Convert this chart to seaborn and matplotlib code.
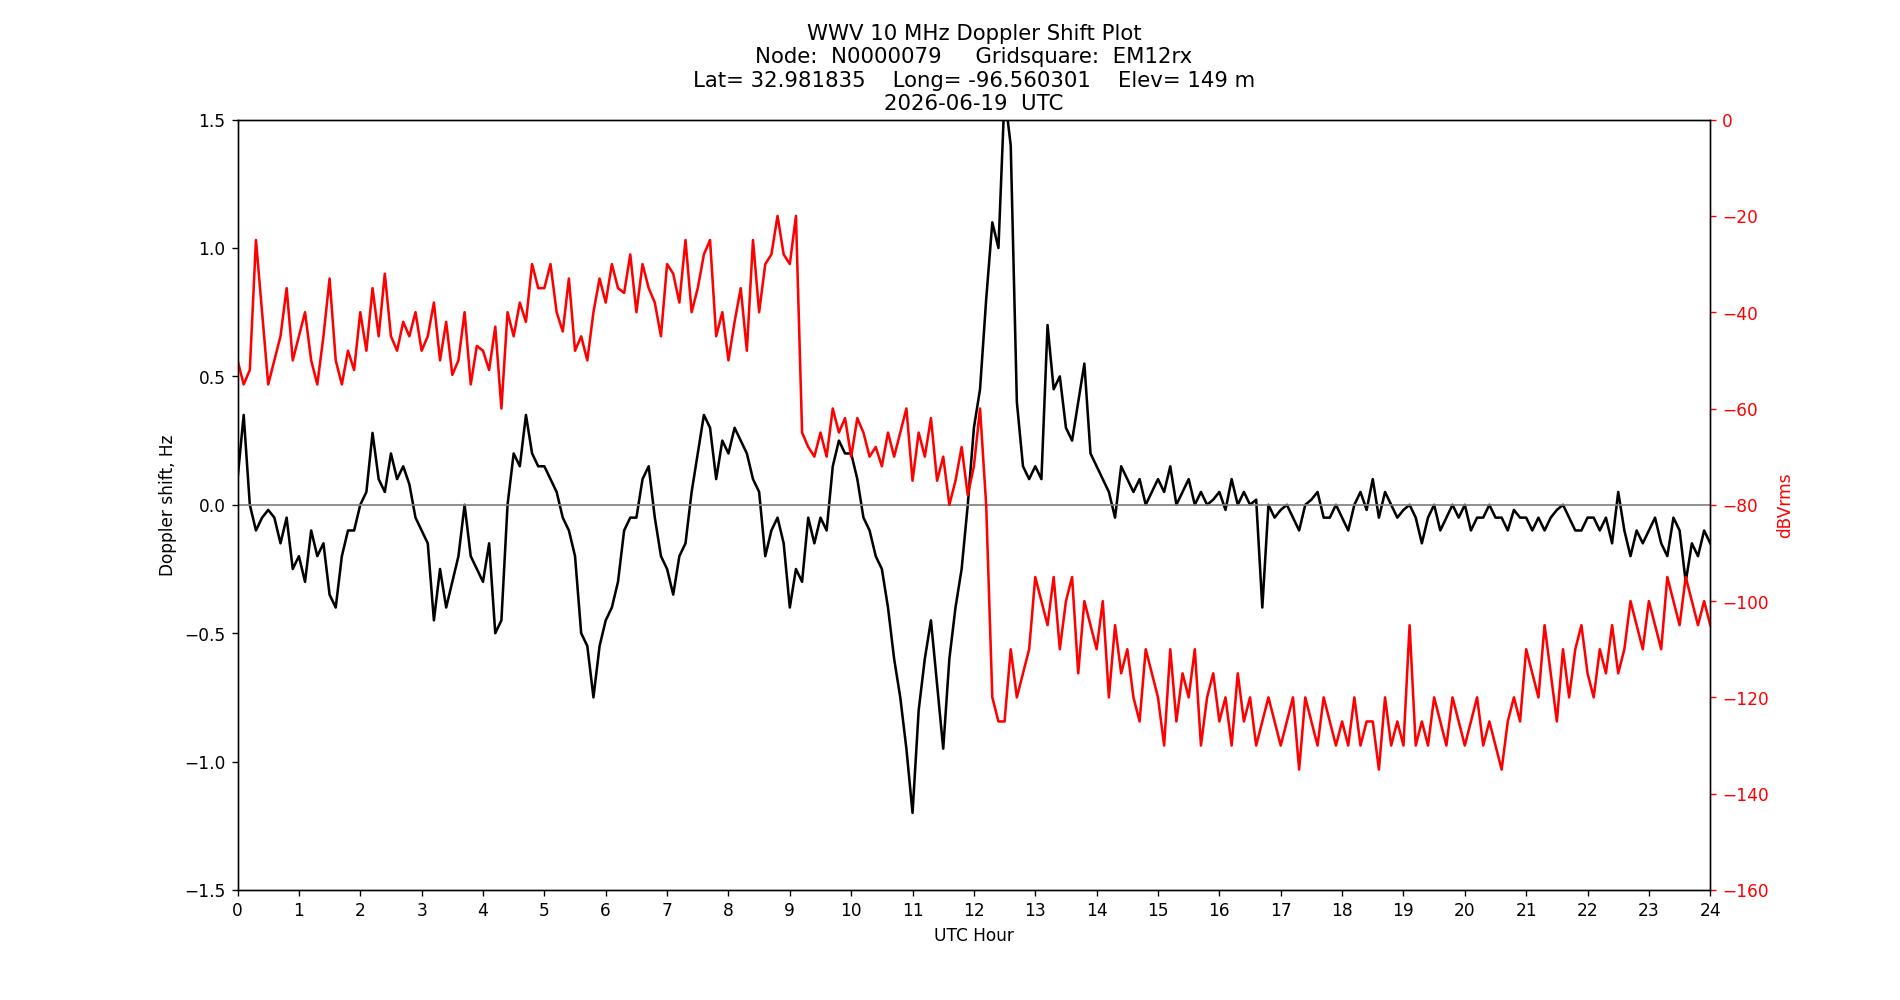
import numpy as np
import pandas as pd
import matplotlib
matplotlib.use("Agg")
import matplotlib.pyplot as plt
import seaborn as sns

# Doppler shift (Hz), one value every 0.1 UTC hour
doppler = [
    0.10, 0.35, 0.00, -0.10, -0.05, -0.02, -0.05, -0.15, -0.05, -0.25,
    -0.20, -0.30, -0.10, -0.20, -0.15, -0.35, -0.40, -0.20, -0.10, -0.10,
    0.00, 0.05, 0.28, 0.10, 0.05, 0.20, 0.10, 0.15, 0.08, -0.05,
    -0.10, -0.15, -0.45, -0.25, -0.40, -0.30, -0.20, 0.00, -0.20, -0.25,
    -0.30, -0.15, -0.50, -0.45, 0.00, 0.20, 0.15, 0.35, 0.20, 0.15,
    0.15, 0.10, 0.05, -0.05, -0.10, -0.20, -0.50, -0.55, -0.75, -0.55,
    -0.45, -0.40, -0.30, -0.10, -0.05, -0.05, 0.10, 0.15, -0.05, -0.20,
    -0.25, -0.35, -0.20, -0.15, 0.05, 0.20, 0.35, 0.30, 0.10, 0.25,
    0.20, 0.30, 0.25, 0.20, 0.10, 0.05, -0.20, -0.10, -0.05, -0.15,
    -0.40, -0.25, -0.30, -0.05, -0.15, -0.05, -0.10, 0.15, 0.25, 0.20,
    0.20, 0.10, -0.05, -0.10, -0.20, -0.25, -0.40, -0.60, -0.75, -0.95,
    -1.20, -0.80, -0.60, -0.45, -0.70, -0.95, -0.60, -0.40, -0.25, 0.00,
    0.30, 0.45, 0.80, 1.10, 1.00, 1.60, 1.40, 0.40, 0.15, 0.10,
    0.15, 0.10, 0.70, 0.45, 0.50, 0.30, 0.25, 0.40, 0.55, 0.20,
    0.15, 0.10, 0.05, -0.05, 0.15, 0.10, 0.05, 0.10, 0.00, 0.05,
    0.10, 0.05, 0.15, 0.00, 0.05, 0.10, 0.00, 0.05, 0.00, 0.02,
    0.05, -0.02, 0.10, 0.00, 0.05, 0.00, 0.02, -0.40, 0.00, -0.05,
    -0.02, 0.00, -0.05, -0.10, 0.00, 0.02, 0.05, -0.05, -0.05, 0.00,
    -0.05, -0.10, 0.00, 0.05, -0.02, 0.10, -0.05, 0.05, 0.00, -0.05,
    -0.02, 0.00, -0.05, -0.15, -0.05, 0.00, -0.10, -0.05, 0.00, -0.05,
    0.00, -0.10, -0.05, -0.05, 0.00, -0.05, -0.05, -0.10, -0.02, -0.05,
    -0.05, -0.10, -0.05, -0.10, -0.05, -0.02, 0.00, -0.05, -0.10, -0.10,
    -0.05, -0.05, -0.10, -0.05, -0.15, 0.05, -0.10, -0.20, -0.10, -0.15,
    -0.10, -0.05, -0.15, -0.20, -0.05, -0.10, -0.30, -0.15, -0.20, -0.10,
    -0.15,
]

# Signal power (dBVrms), same time steps
power = [
    -50, -55, -52, -25, -40, -55, -50, -45, -35, -50,
    -45, -40, -50, -55, -45, -33, -50, -55, -48, -52,
    -40, -48, -35, -45, -32, -45, -48, -42, -45, -40,
    -48, -45, -38, -50, -42, -53, -50, -40, -55, -47,
    -48, -52, -43, -60, -40, -45, -38, -42, -30, -35,
    -35, -30, -40, -44, -33, -48, -45, -50, -40, -33,
    -38, -30, -35, -36, -28, -40, -30, -35, -38, -45,
    -30, -32, -38, -25, -40, -35, -28, -25, -45, -40,
    -50, -42, -35, -48, -25, -40, -30, -28, -20, -28,
    -30, -20, -65, -68, -70, -65, -70, -60, -65, -62,
    -70, -62, -65, -70, -68, -72, -65, -70, -65, -60,
    -75, -65, -70, -62, -75, -70, -80, -75, -68, -78,
    -72, -60, -80, -120, -125, -125, -110, -120, -115, -110,
    -95, -100, -105, -95, -110, -100, -95, -115, -100, -105,
    -110, -100, -120, -105, -115, -110, -120, -125, -110, -115,
    -120, -130, -110, -125, -115, -120, -110, -130, -120, -115,
    -125, -120, -130, -115, -125, -120, -130, -125, -120, -125,
    -130, -125, -120, -135, -120, -125, -130, -120, -125, -130,
    -125, -130, -120, -130, -125, -125, -135, -120, -130, -125,
    -130, -105, -130, -125, -130, -120, -125, -130, -120, -125,
    -130, -125, -120, -130, -125, -130, -135, -125, -120, -125,
    -110, -115, -120, -105, -115, -125, -110, -120, -110, -105,
    -115, -120, -110, -115, -105, -115, -110, -100, -105, -110,
    -100, -105, -110, -95, -100, -105, -95, -100, -105, -100,
    -105,
]

hours = np.round(np.arange(len(doppler)) * 0.1, 2)
df = pd.DataFrame({"hour": hours, "doppler": doppler, "power": power})

fig, ax = plt.subplots(figsize=(15.5, 8.16), dpi=122.6)

sns.lineplot(data=df, x="hour", y="doppler", color="black", lw=1.5, ax=ax)
ax.axhline(0, color="grey", lw=1)
ax.set(xlim=(0, 24), ylim=(-1.5, 1.5), xlabel="UTC Hour", ylabel="Doppler shift, Hz")
ax.set_xticks(range(0, 25))

ax2 = ax.twinx()
sns.lineplot(data=df, x="hour", y="power", color="red", lw=1.5, ax=ax2)
ax2.set_ylim(-160, 0)
ax2.set_ylabel("dBVrms", color="red")
ax2.tick_params(axis="y", colors="red")

ax.set_title("WWV 10 MHz Doppler Shift Plot\n"
             "Node:  N0000079     Gridsquare:  EM12rx\n"
             "Lat= 32.981835    Long= -96.560301    Elev= 149 m\n"
             "2026-06-19  UTC", fontsize=12.5)

fig.savefig("out.png")
